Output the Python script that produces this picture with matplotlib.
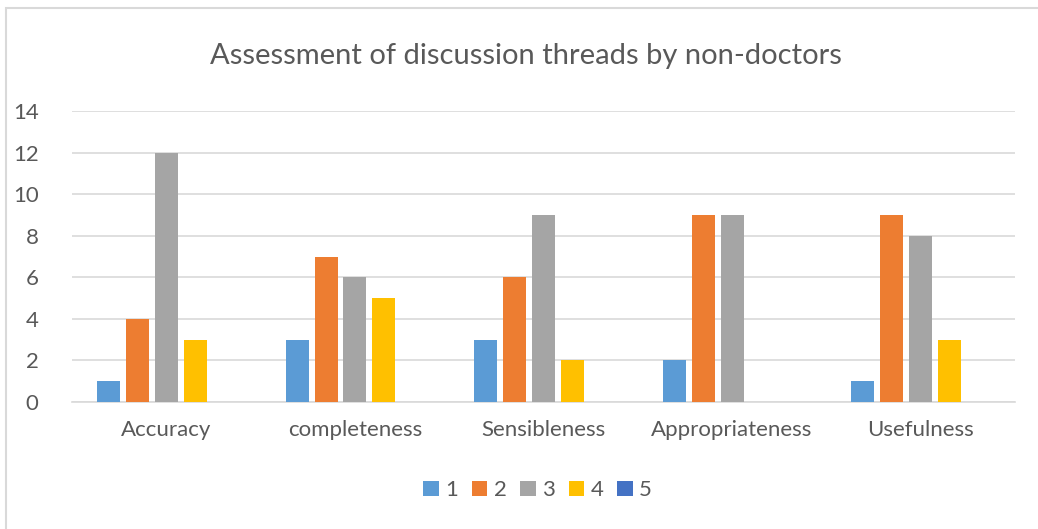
import matplotlib.pyplot as plt
import numpy as np
from matplotlib.patches import Rectangle

# Scores given by non-doctors per criterion (rating 1..5)
categories = ['Accuracy', 'completeness', 'Sensibleness', 'Appropriateness', 'Usefulness']
ratings = ['1', '2', '3', '4', '5']
r1 = [1, 3, 3, 2, 1]
r2 = [4, 7, 6, 9, 9]
r3 = [12, 6, 9, 9, 8]
r4 = [3, 5, 2, 0, 3]
r5 = [0, 0, 0, 0, 0]

colors = ['#5B9BD5', '#ED7D31', '#A5A5A5', '#FFC000', '#4472C4']
text_color = '#595959'

plt.rcParams['font.family'] = ['Lato', 'DejaVu Sans']

fig = plt.figure(figsize=(10.38, 5.29), dpi=100)
# chart border
fig.patches.append(Rectangle((6 / 1038, -0.1), 1.2, 1 - 8 / 529 + 0.1,
                             transform=fig.transFigure, fill=False,
                             edgecolor='#D9D9D9', linewidth=1.5))

ax = fig.add_axes([72 / 1038, 1 - 402 / 529, (1015 - 72) / 1038, (402 - 111) / 529])

x = np.arange(len(categories))
pitch = 0.153
width = 0.122
for i, vals in enumerate([r1, r2, r3, r4, r5]):
    ax.bar(x + (i - 2) * pitch, vals, width, color=colors[i], label=ratings[i], zorder=3)

ax.set_xlim(-0.5, len(categories) - 0.5)
ax.set_ylim(0, 14)
ax.set_yticks(range(0, 15, 2))
ax.set_xticks(x)
ax.set_xticklabels(categories)
ax.grid(axis='y', color='#D9D9D9', linewidth=1.2, zorder=0)
for s in ['top', 'right', 'left']:
    ax.spines[s].set_visible(False)
ax.spines['bottom'].set_color('#D9D9D9')
ax.spines['bottom'].set_linewidth(1.2)
ax.tick_params(length=0, colors=text_color, labelsize=16)
ax.tick_params(axis='x', pad=13)
ax.tick_params(axis='y', pad=24)

fig.text(0.507, 0.895, 'Assessment of discussion threads by non-doctors',
         ha='center', va='center', fontsize=21, color=text_color)

leg = fig.legend(loc='center', bbox_to_anchor=(0.518, 0.073), ncol=5, frameon=False,
                 fontsize=16, handlelength=0.7, handleheight=0.7, columnspacing=0.6,
                 handletextpad=0.3)
for t in leg.get_texts():
    t.set_color(text_color)

fig.savefig('out.png', dpi=100)
